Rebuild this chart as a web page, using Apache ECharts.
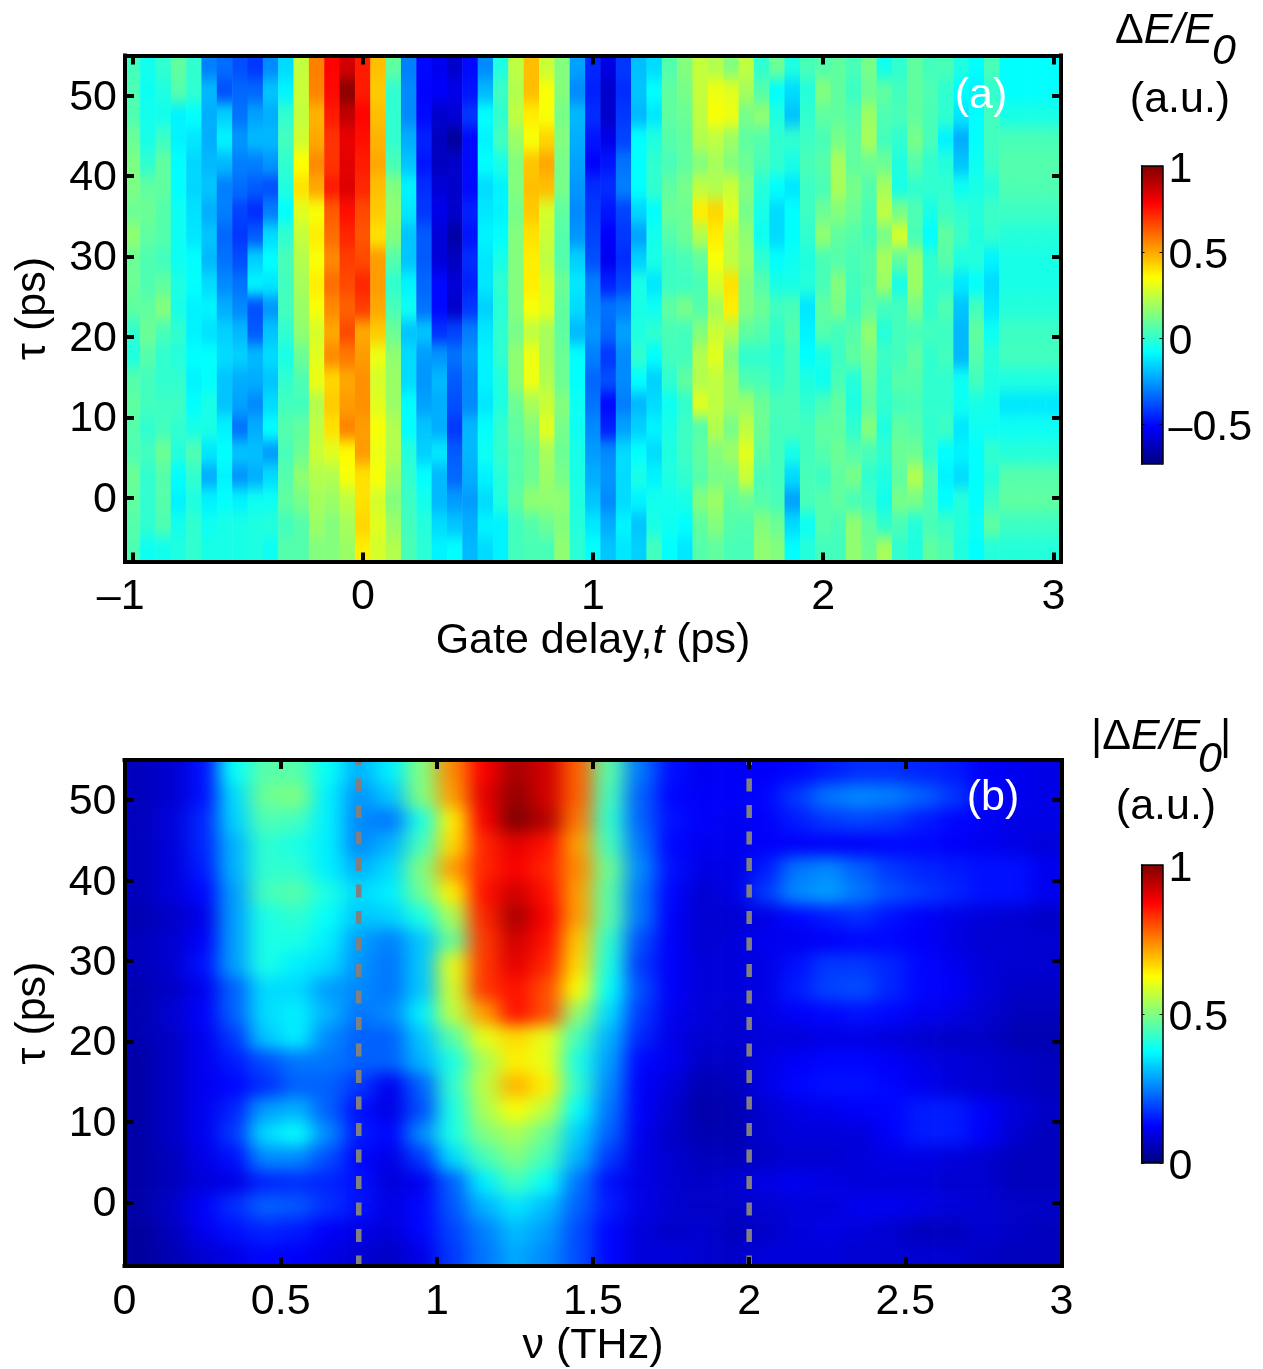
<!DOCTYPE html>
<html><head><meta charset="utf-8">
<style>
html,body{margin:0;padding:0;background:#fff;width:1263px;height:1369px;overflow:hidden}
.clip{position:absolute;overflow:hidden}
#clipA{left:125px;top:55px;width:936px;height:506px}
#clipB{left:124px;top:760px;width:938px;height:507px}
#heatA{position:absolute;left:0;top:-48.2px;width:936px;height:602.4px;filter:url(#softA)}
#heatB{position:absolute;left:-62.5px;top:-48.2px;width:1063px;height:603.4px;filter:url(#softB)}
#top{position:absolute;left:0;top:0;width:1263px;height:1369px}
</style>
<script src="https://cdn.jsdelivr.net/npm/echarts@6/dist/echarts.min.js"></script>
</head><body>
<svg width="0" height="0" style="position:absolute"><defs>
<filter id="softA" x="0" y="0" width="1" height="1" color-interpolation-filters="sRGB"><feGaussianBlur stdDeviation="0 7"/></filter>
<filter id="softB" x="0" y="0" width="1" height="1" color-interpolation-filters="sRGB"><feGaussianBlur stdDeviation="10 8"/></filter>
</defs></svg>
<div id="clipA" class="clip"><div id="heatA"></div></div>
<div id="clipB" class="clip"><div id="heatB"></div></div>
<div id="top"></div>
<script>
const jet=['#000080','#0000ff','#0080ff','#00ffff','#80ff80','#ffff00','#ff8000','#ff0000','#800000'];
const gateTicks=[-1,0,1,2,3];
const freqTicks=[0,0.5,1,1.5,2,2.5,3];
const tauTicks=[0,10,20,30,40,50];
const barTicksA=[-0.5,0,0.5,1];
const barTicksB=[0,0.5,1];
const markerFreqs=[0.75,2];
// panel (a): one list per gate-delay column, top row to bottom row, in hundredths of dE/E0
const colsA=[
[3,5,5,10,13,13,10,16,10,10,8,0,-3,6,8,6,5,10,8,6,5],
[-5,-6,-5,-4,0,8,10,8,5,5,8,10,6,3,3,0,3,0,0,0,-6],
[0,-3,-5,2,8,8,6,6,3,8,14,4,0,0,2,3,10,6,6,5,-5],
[8,6,-10,-10,-8,-8,-6,-6,-6,-3,-4,0,-2,0,2,0,-2,-8,-10,-5,-3],
[0,0,-8,-12,-15,-15,-13,-12,-8,-8,-10,-10,-8,-10,-8,-4,5,0,-3,0,0],
[-30,-20,-22,-22,-20,-18,-22,-18,-20,-14,-10,-13,-8,-8,-4,-4,-12,-22,-10,-6,-4],
[-33,-38,-16,-10,-20,-30,-30,-34,-32,-28,-22,-16,-14,-18,-18,-10,-8,-10,-8,-4,-4],
[-38,-34,-32,-26,-30,-33,-40,-42,-38,-32,-28,-20,-16,-22,-24,-32,-18,-26,-10,-4,-4],
[-42,-34,-24,-20,-30,-36,-44,-36,-16,-10,-38,-36,-20,-22,-28,-22,-19,-22,-6,-3,-3],
[-28,-18,-22,-20,-26,-38,-30,-14,-8,-12,-26,-18,-14,-18,-14,-8,-25,-14,-6,-2,-6],
[-14,-10,0,3,0,-3,-8,0,4,3,3,0,-4,0,3,6,4,6,8,3,6],
[25,26,25,27,35,40,30,25,22,20,18,16,10,5,3,8,10,16,12,6,6],
[57,56,48,50,55,50,34,38,34,38,34,28,30,32,22,24,26,22,20,18,14],
[78,77,74,70,70,74,63,60,55,60,55,50,55,42,44,40,30,22,18,14,14],
[86,98,89,82,83,84,76,72,68,66,62,66,58,50,52,56,36,34,24,20,18],
[74,74,78,76,74,72,66,64,66,72,68,50,52,54,54,52,52,40,40,42,38],
[46,44,46,48,50,46,44,40,52,52,50,44,32,28,30,34,32,34,28,30,28],
[8,0,0,0,4,14,16,14,6,0,4,10,16,18,18,22,22,18,14,18,22],
[-30,-28,-28,-22,-18,-10,-12,-18,-18,-10,-6,-18,-14,-14,-8,-8,-2,0,2,3,4],
[-50,-51,-50,-46,-48,-44,-42,-36,-36,-34,-32,-18,-25,-26,-24,-18,-16,-8,-5,-2,-1],
[-54,-52,-60,-62,-62,-58,-55,-58,-58,-50,-50,-43,-26,-20,-22,-22,-12,-20,-20,-14,-10],
[-60,-55,-58,-68,-60,-60,-60,-66,-62,-58,-60,-40,-32,-36,-38,-42,-36,-34,-25,-18,-8],
[-50,-48,-42,-50,-50,-50,-46,-48,-44,-46,-42,-30,-26,-28,-28,-20,-20,-22,-25,-22,-20],
[-28,-20,-8,-10,-8,-14,-12,-10,-12,-12,-16,-12,-10,-10,-12,-8,-6,-10,-14,-10,-14],
[-3,2,0,3,-4,-10,-10,-8,-4,0,-2,0,0,-3,-3,0,0,-2,-3,-10,-10],
[24,22,24,18,14,14,12,14,14,14,14,12,16,16,10,8,6,6,8,3,3],
[46,46,38,34,45,46,44,40,38,38,34,24,32,32,20,14,10,10,16,6,4],
[26,34,34,42,50,46,28,26,24,28,30,20,20,22,26,30,20,18,16,10,4],
[14,14,12,14,12,12,8,6,6,10,8,8,10,10,14,12,10,12,16,14,16],
[-24,-28,-20,-22,-24,-26,-28,-26,-16,-12,-14,-20,-8,-8,-6,-6,-4,-4,-3,-2,-1],
[-45,-46,-44,-48,-52,-44,-42,-40,-38,-30,-28,-26,-30,-34,-32,-28,-25,-22,-18,-12,-8],
[-56,-60,-60,-55,-48,-44,-48,-52,-54,-46,-32,-34,-42,-38,-50,-46,-28,-26,-28,-22,-18],
[-42,-44,-42,-40,-32,-30,-40,-42,-44,-40,-30,-24,-28,-28,-30,-24,-14,-14,-14,-10,-12],
[-19,-18,-20,-8,-8,-8,-15,-24,-16,-4,-4,-3,0,-8,-20,-16,-8,-4,-10,-18,-16],
[-14,-8,-12,-3,0,0,-8,-5,-4,-12,-6,0,-8,-16,-14,-10,-14,-10,-5,-4,3],
[6,8,8,6,4,8,10,6,2,2,8,4,3,0,-6,-4,-3,-3,-5,-6,-8],
[14,12,10,8,8,12,10,10,4,2,12,3,3,8,0,2,2,0,-4,-8,-12],
[25,25,24,22,14,24,38,22,8,4,6,14,22,22,30,6,8,6,14,8,6],
[22,32,34,24,20,22,42,38,34,28,20,26,30,24,24,22,14,12,18,14,8],
[14,30,32,18,14,26,30,24,24,40,38,22,14,18,18,12,18,12,8,6,4],
[24,20,12,8,10,14,12,16,18,14,14,8,0,5,18,24,30,26,10,5,4],
[0,6,16,6,4,-2,-4,-6,0,6,10,6,0,4,10,10,8,4,6,14,16],
[10,-8,-3,0,0,-8,-14,-14,-8,-4,3,0,-2,0,4,3,3,3,4,10,14],
[-3,-14,-18,0,-4,-12,-8,-8,-6,-4,4,6,3,3,4,4,-4,-14,-24,-14,-8],
[4,-2,0,2,4,2,2,0,-3,-2,-12,-10,-8,-3,0,3,3,4,4,-6,-2],
[6,14,8,4,6,4,10,16,4,4,8,6,-4,-6,4,8,6,2,6,6,3],
[8,8,8,12,20,20,14,8,6,14,12,3,2,4,8,8,10,8,8,4,3],
[4,2,6,8,8,12,10,6,4,3,2,6,8,-2,-3,0,6,12,4,16,16],
[12,10,18,20,10,6,4,3,6,6,8,16,12,10,8,14,4,0,2,8,10],
[-5,8,5,3,10,20,24,12,20,18,3,-2,2,0,0,-3,0,-3,-5,0,20],
[0,3,4,0,-3,-4,12,28,8,-4,3,3,3,6,3,8,10,8,12,4,0],
[8,8,8,12,6,0,5,4,18,18,12,4,8,6,4,6,10,22,12,-2,-3],
[3,5,4,4,0,0,-4,-8,0,0,0,3,0,0,0,0,0,6,5,4,8],
[4,0,0,-10,-2,0,2,8,6,0,5,2,3,0,0,2,-8,-10,-8,2,5],
[-3,-8,-12,-22,-18,-6,0,2,-3,-12,-18,-20,-20,-6,-6,-12,-10,-14,-2,-2,-3],
[-8,-10,-8,-8,-6,-4,-2,-3,-2,-8,3,8,6,3,-4,-6,-8,-8,-8,-6,-8],
[4,0,3,3,2,-2,2,0,-10,-14,-12,-6,-2,-3,-5,-6,0,-2,2,8,-2],
[-8,-8,-4,4,6,5,2,-2,-4,-4,-2,2,3,-3,-12,-6,-2,6,8,2,-2],
[-8,-8,-4,4,6,5,2,-2,-4,-4,-2,2,3,-3,-12,-6,-2,6,8,2,-2],
[-8,-8,-4,4,6,5,2,-2,-4,-4,-2,2,3,-3,-12,-6,-2,6,8,2,-2],
[-8,-8,-4,4,6,5,2,-2,-4,-4,-2,2,3,-3,-12,-6,-2,6,8,2,-2]
];
// panel (b): one list per delay row, top to bottom, low to high frequency, in hundredths of |dE/E0|
const rowsB=[
[6,8,14,38,46,46,38,30,36,50,74,88,96,92,78,46,24,14,11,12,12,13,15,17,17,16,15,12,11,10],
[6,8,14,34,48,50,36,27,32,50,72,90,98,92,78,44,22,13,12,12,13,18,24,26,25,22,18,13,11,10],
[6,9,16,33,45,44,36,26,24,40,64,88,100,95,76,42,22,14,12,11,12,15,18,19,18,15,13,12,10,10],
[6,9,16,30,42,40,36,26,30,44,66,84,90,86,72,44,24,13,11,11,12,12,12,12,13,13,12,11,10,9],
[6,9,15,30,42,42,36,30,34,50,72,84,88,84,74,48,26,14,10,10,15,24,26,22,18,16,15,14,14,11],
[6,9,13,28,44,46,40,34,36,48,64,86,92,86,72,46,24,13,8,10,18,26,28,24,20,18,16,14,14,11],
[5,7,10,28,40,42,38,32,33,40,54,84,96,88,72,46,24,12,8,8,10,13,15,17,14,12,10,9,8,7],
[6,8,12,28,40,40,36,28,25,32,48,82,92,86,68,42,20,12,8,9,11,11,12,13,13,12,10,8,8,8],
[6,8,14,28,40,36,34,27,24,32,60,82,90,84,66,40,18,12,9,9,10,14,18,18,16,13,11,9,8,8],
[5,7,11,22,34,34,28,26,24,32,58,82,86,80,62,38,20,12,9,9,10,15,19,20,16,13,12,9,7,7],
[5,8,12,22,34,36,30,24,26,36,56,72,86,80,52,34,18,11,9,8,10,12,13,14,13,11,10,8,6,6],
[5,7,11,18,32,36,26,22,22,32,46,60,66,60,44,30,16,10,8,8,9,9,10,10,9,8,7,7,5,5],
[4,7,11,15,20,24,24,22,22,30,40,54,64,60,40,28,13,11,7,7,10,12,13,13,12,10,9,8,7,6],
[4,7,11,13,17,22,22,18,11,22,42,56,70,64,42,26,12,9,5,6,10,13,14,14,13,11,9,8,7,6],
[4,7,11,16,28,30,22,14,10,20,40,54,62,56,38,24,12,8,4,5,8,10,11,12,13,15,15,12,9,7],
[4,7,11,18,34,38,26,15,13,26,40,50,54,48,33,22,11,7,5,5,8,9,9,9,12,15,15,12,8,6],
[4,6,10,14,26,26,20,13,10,18,34,44,50,44,30,18,10,8,6,6,7,8,8,9,10,10,9,8,6,6],
[4,6,9,10,16,17,16,14,9,11,22,36,44,38,24,14,10,8,7,8,10,11,10,9,9,9,8,8,6,6],
[4,7,12,17,22,21,17,14,10,13,21,30,35,31,22,15,10,8,7,7,8,9,9,11,11,10,9,8,7,7],
[3,6,11,14,16,15,12,10,9,13,19,25,31,28,20,13,9,7,8,6,7,9,10,9,8,6,6,8,7,6],
[3,5,8,10,13,12,10,8,7,10,18,24,29,26,20,13,9,9,8,7,9,9,9,8,8,8,8,7,6,6]
];
const F='"Liberation Sans",Arial,sans-serif', FS=43;
const PAD=2;
function clampIdx(i,n){return Math.max(0,Math.min(n-1,i));}
function heatChart(id,nx,ny,padX,padY,get,vmin,vmax){
  const data=[];
  for(let x=-padX;x<nx+padX;x++)for(let y=-padY;y<ny+padY;y++)
    data.push([x+padX,y+padY,get(clampIdx(x,nx),clampIdx(y,ny))]);
  const xc=[],yc=[];
  for(let i=0;i<nx+2*padX;i++)xc.push(String(i));
  for(let i=0;i<ny+2*padY;i++)yc.push(String(i));
  const c=echarts.init(document.getElementById(id),null,{renderer:'canvas'});
  c.setOption({animation:false,backgroundColor:'transparent',
    grid:{left:0,right:0,top:0,bottom:0,containLabel:false},
    tooltip:{show:false},
    xAxis:{type:'category',data:xc,show:false},
    yAxis:{type:'category',data:yc,show:false,inverse:true},
    visualMap:{show:false,min:vmin,max:vmax,calculable:false,inRange:{color:jet}},
    series:[{type:'heatmap',data:data,progressive:0,itemStyle:{borderWidth:0},emphasis:{disabled:true}}]});
}
heatChart('heatA',colsA.length,colsA[0].length,0,PAD,(x,y)=>colsA[x][y]/100,-0.73,1);
heatChart('heatB',rowsB[0].length,rowsB.length,PAD,PAD,(x,y)=>rowsB[y][x]/100,0,1);

const tickStyle={show:true,inside:true,length:9,lineStyle:{color:'#000',width:4}};
const lineStyle={show:true,onZero:false,lineStyle:{color:'#000',width:4,cap:'square'}};
const labelStyle={fontFamily:F,fontSize:FS,color:'#000'};
function dash(v){return String(v).replace('-','\u2013');}
function dashShift(v){return v<0?dash(v)+'\u00a0\u00a0':dash(v);}
function xAxisPair(g,min,max,ticks,name,nameGap,margin){
  return [
   {type:'value',gridIndex:g,position:'bottom',min,max,z:10,splitLine:{show:false},axisLine:lineStyle,
    axisTick:Object.assign({customValues:ticks},tickStyle),
    axisLabel:Object.assign({customValues:ticks,margin,formatter:dashShift,hideOverlap:false,showMinLabel:true,showMaxLabel:true},labelStyle),
    name,nameLocation:'middle',nameGap,
    nameTextStyle:{fontFamily:F,fontSize:FS,color:'#000',rich:{n:{fontFamily:F,fontSize:FS,color:'#000'},i:{fontFamily:F,fontSize:FS,fontStyle:'italic',color:'#000'}}}},
   {type:'value',gridIndex:g,position:'top',min,max,z:10,splitLine:{show:false},axisLine:lineStyle,
    axisTick:Object.assign({customValues:ticks},tickStyle),axisLabel:{show:false}}];
}
function yAxisPair(g,min,max,ticks,name){
  return [
   {type:'value',gridIndex:g,position:'left',min,max,z:10,splitLine:{show:false},axisLine:lineStyle,
    axisTick:Object.assign({customValues:ticks},tickStyle),
    axisLabel:Object.assign({customValues:ticks,margin:8,verticalAlign:'top',lineHeight:4,formatter:dash},labelStyle),
    name,nameLocation:'middle',nameGap:70,nameRotate:90,nameTextStyle:{fontFamily:F,fontSize:FS,color:'#000'}},
   {type:'value',gridIndex:g,position:'right',min,max,z:10,splitLine:{show:false},axisLine:lineStyle,
    axisTick:Object.assign({customValues:ticks},tickStyle),axisLabel:{show:false}}];
}
function barAxes(g,min,max,ticks){
  const thin={show:true,onZero:false,lineStyle:{color:'#000',width:1.5}};
  const t={show:true,inside:true,length:3,lineStyle:{color:'#000',width:1},customValues:ticks};
  return {x:[{type:'value',gridIndex:g,position:'bottom',min:0,max:1,z:10,splitLine:{show:false},axisLine:thin,axisTick:{show:false},axisLabel:{show:false}},
             {type:'value',gridIndex:g,position:'top',min:0,max:1,z:10,splitLine:{show:false},axisLine:thin,axisTick:{show:false},axisLabel:{show:false}}],
          y:[{type:'value',gridIndex:g,position:'left',min,max,z:10,splitLine:{show:false},axisLine:thin,axisTick:t,axisLabel:{show:false}},
             {type:'value',gridIndex:g,position:'right',min,max,z:10,splitLine:{show:false},axisLine:thin,axisTick:t,
              axisLabel:Object.assign({customValues:ticks,margin:6,verticalAlign:'top',lineHeight:8,formatter:dash},labelStyle)}]};
}
const barA=barAxes(2,-0.73,1,barTicksA), barB=barAxes(3,0,1,barTicksB);
const tauMin=-7.9,tauMax=55;
const xAxes=[].concat(
  xAxisPair(0,-1.0333,3.0333,gateTicks,'{n|Gate delay,}{i|t}{n| (ps)}',56,14),
  xAxisPair(1,0,3,freqTicks,'\u03BD (THz)',56,15),
  barA.x,barB.x);
const yAxes=[].concat(
  yAxisPair(0,tauMin,tauMax,tauTicks,'\u03C4 (ps)'),
  yAxisPair(1,tauMin,tauMax,tauTicks,'\u03C4 (ps)'),
  barA.y,barB.y);
function txt(x,y,rich,align){
  return {type:'text',x,y,z:20,silent:true,style:{text:rich,x:0,y:0,align:align||'left',verticalAlign:'middle',
    fontFamily:F,fontSize:FS,fill:'#000',
    rich:{n:{fontFamily:F,fontSize:FS,fill:'#000'},i:{fontFamily:F,fontSize:FS,fontStyle:'italic',fill:'#000'}}}};
}
function whiteTxt(x,y,s){
  return {type:'text',x,y,z:20,silent:true,style:{text:s,x:0,y:0,align:'center',verticalAlign:'middle',fontFamily:F,fontSize:FS,fill:'#fff'}};
}
const top_=echarts.init(document.getElementById('top'),null,{renderer:'canvas'});
const lines=markerFreqs.map(f=>({type:'line',xAxisIndex:2,yAxisIndex:2,data:[[f,tauMax],[f,tauMin]],symbol:'none',silent:true,z:5,
  lineStyle:{color:'#808080',width:5.5,type:[13,13.5],dashOffset:8}}));
top_.setOption({animation:false,backgroundColor:'transparent',tooltip:{show:false},
  grid:[
   {left:125,top:55.5,width:936,height:506},
   {left:124.5,top:760,width:937,height:507},
   {left:1141.5,top:166,width:21,height:298},
   {left:1141.5,top:865,width:21,height:298}],
  xAxis:xAxes,yAxis:yAxes,
  visualMap:[
   {type:'continuous',seriesIndex:[],min:-0.73,max:1,left:1141,top:166,itemWidth:22,itemHeight:298,calculable:false,realtime:false,text:null,showLabel:false,
    inRange:{color:jet},padding:0,z:1,textStyle:{fontSize:0}},
   {type:'continuous',seriesIndex:[],min:0,max:1,left:1141,top:865,itemWidth:22,itemHeight:298,calculable:false,realtime:false,text:null,showLabel:false,
    inRange:{color:jet},padding:0,z:1,textStyle:{fontSize:0}}],
  series:lines,
  graphic:[
   whiteTxt(981,96,'(a)'),
   whiteTxt(993,798,'(b)'),
   txt(1115,31,'{n|\u0394}{i|E/E}'),
   txt(1212,52,'{i|0}'),
   txt(1180,100,'(a.u.)','center'),
   txt(1091,737,'{n|\u007C\u0394}{i|E/E}'),
   txt(1198,760,'{i|0}'),
   txt(1220,737,'|'),
   txt(1166,807,'(a.u.)','center')
  ]});
</script>
</body></html>
